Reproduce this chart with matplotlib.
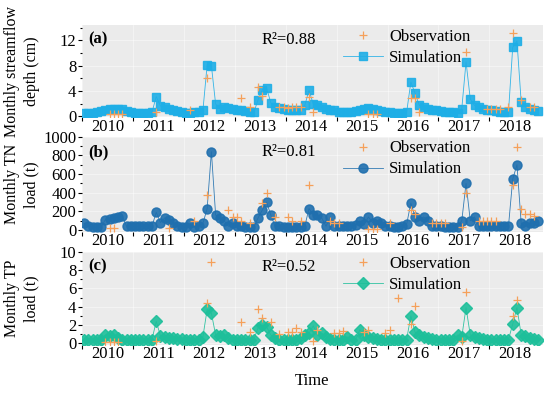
import numpy as np
import matplotlib
matplotlib.use('Agg')
import matplotlib.pyplot as plt
import matplotlib.ticker as mticker

plt.rcParams['font.family'] = ['Liberation Serif', 'DejaVu Serif']

N = None
years = list(range(2010, 2019))

# Monthly streamflow depth (cm), Jan 2010 - Dec 2018
flow_sim = [0.5, 0.5, 0.5, 0.6, 0.8, 1.0, 1.1, 1.2, 1.2, 1.1, 0.8, 0.6,
            0.5, 0.5, 0.5, 0.5, 0.6, 3.1, 1.6, 1.4, 1.2, 1.0, 0.8, 0.6,
            0.5, 0.5, 0.6, 0.7, 0.9, 8.1, 8.0, 1.9, 1.2, 1.4, 1.3, 1.2,
            1.0, 0.9, 0.8, 0.7, 0.6, 2.6, 4.2, 4.5, 2.1, 1.5, 1.3, 1.1,
            1.0, 0.9, 0.9, 1.0, 1.7, 4.1, 1.9, 1.7, 1.4, 1.2, 1.0, 0.9,
            0.7, 0.6, 0.6, 0.7, 0.8, 1.0, 1.2, 1.3, 1.2, 1.0, 0.8, 0.7,
            0.6, 0.5, 0.5, 0.5, 0.6, 5.4, 3.6, 1.7, 1.4, 1.2, 1.0, 0.9,
            0.8, 0.7, 0.6, 0.6, 0.5, 1.2, 8.6, 2.7, 1.7, 1.4, 1.2, 1.0,
            0.9, 0.8, 0.7, 0.6, 0.6, 10.9, 11.9, 2.2, 1.5, 1.2, 1.0, 0.8]
flow_obs = [N, N, N, N, N, N, 0.3, 0.3, 0.3, 0.3, N, N,
            N, N, N, N, N, 0.6, N, N, N, N, N, N,
            N, 1.0, N, N, N, 6.0, N, N, N, N, N, N,
            N, 2.8, N, 1.5, N, 4.6, 3.2, N, N, N, 1.4, 1.4,
            1.3, 1.4, 1.5, 1.4, N, 3.0, 0.6, N, N, N, N, N,
            N, N, N, N, N, N, N, 0.3, 0.3, 0.3, N, N,
            N, N, N, N, N, 2.8, 2.8, 0.6, N, N, N, N,
            N, N, N, N, N, N, 10.1, N, N, N, N, 1.2,
            1.2, 1.2, 1.2, N, 1.4, 13.1, N, 2.5, N, 1.4, 1.4, N]

# Monthly TN load (t)
tn_sim = [70, 40, 30, 30, 30, 110, 120, 130, 140, 150, 40, 40,
          40, 40, 40, 40, 40, 190, 80, 130, 110, 80, 40, 30,
          30, 70, 30, 40, 70, 230, 840, 160, 125, 100, 40, 75,
          40, 40, 30, 30, 30, 130, 215, 300, 160, 40, 40, 30,
          30, 30, 30, 30, 40, 230, 160, 160, 130, 40, 140, 40,
          40, 40, 40, 40, 50, 100, 60, 140, 80, 100, 80, 40,
          40, 30, 30, 40, 60, 290, 140, 100, 140, 100, 40, 40,
          40, 30, 30, 30, 30, 100, 500, 100, 140, 40, 40, 40,
          40, 40, 40, 40, 40, 545, 700, 70, 40, 70, 70, 100]
tn_obs = [N, N, N, N, N, N, 20, 20, N, N, N, N,
          N, N, N, N, N, N, N, N, 20, N, N, N,
          N, N, 100, N, N, 375, N, N, N, N, 215, 140,
          140, 100, N, 80, N, N, 290, 400, N, 140, N, N,
          140, 100, N, 100, N, 480, N, N, N, N, 100, 80,
          80, N, N, N, N, N, N, 15, 15, 15, N, N,
          80, N, N, N, N, 215, 170, N, N, N, 80, 80,
          80, 80, N, N, N, 30, 400, N, N, 100, 100, 100,
          100, 100, N, N, N, 480, 890, 230, 170, 170, 150, N]

# Monthly TP load (t)
tp_sim = [0.4, 0.4, 0.4, 0.4, 0.4, 0.9, 0.8, 0.9, 0.6, 0.4, 0.4, 0.4,
          0.4, 0.4, 0.4, 0.4, 0.4, 2.4, 0.8, 0.7, 0.6, 0.6, 0.5, 0.5,
          0.4, 0.4, 0.4, 0.4, 0.7, 3.7, 3.3, 0.9, 0.8, 0.9, 0.6, 0.4,
          0.4, 0.4, 0.4, 0.4, 0.4, 1.7, 2.0, 1.8, 0.9, 0.6, 0.4, 0.4,
          0.4, 0.4, 0.4, 0.6, 0.9, 1.1, 1.9, 0.9, 1.1, 0.7, 0.5, 0.4,
          0.4, 0.4, 0.7, 0.4, 0.4, 1.5, 0.9, 0.7, 0.6, 0.5, 0.4, 0.4,
          0.4, 0.4, 0.4, 0.4, 0.4, 3.0, 1.2, 0.9, 0.7, 0.6, 0.5, 0.4,
          0.4, 0.4, 0.4, 0.4, 0.9, 0.7, 3.9, 0.9, 0.7, 0.6, 0.5, 0.4,
          0.4, 0.4, 0.4, 0.4, 0.4, 2.1, 3.9, 0.9, 0.8, 0.6, 0.5, 0.4]
tp_obs = [N, N, N, N, N, 0.1, 0.1, 0.1, 0.1, N, N, N,
          N, N, N, N, N, 0.2, N, N, N, N, N, N,
          N, N, N, N, N, 4.4, 8.9, N, N, N, N, N,
          N, 2.3, N, 1.2, N, 3.7, 2.8, N, 2.3, N, 1.0, N,
          1.2, 1.2, 1.7, 1.2, N, N, 0.2, 1.4, N, N, N, 1.1,
          1.1, 1.3, N, N, N, N, 1.2, 1.4, N, N, N, 1.1,
          1.4, N, 5.0, N, N, 2.1, 4.1, N, N, N, N, N,
          N, N, N, N, N, 0.2, 5.6, N, N, N, N, N,
          N, N, N, N, N, 3.0, 4.7, N, N, N, N, N]

r2_values = ['0.88', '0.81', '0.52']
panel_tags = ['(a)', '(b)', '(c)']
ylabels = ['Monthly streamflow\ndepth (cm)', 'Monthly TN\nload (t)', 'Monthly TP\nload (t)']

x = 2010 + (np.arange(len(flow_sim)) + 0.5) / 12.0

obs_color = '#f5a05a'
sim_colors = ['#1eaee6', '#1f6fae', '#1dbf9a']
markers = ['s', 'o', 'D']
msizes = [5.5, 6.5, 6]

fig = plt.figure(figsize=(5.5, 3.93), dpi=100)
rects = [[0.149, 0.702, 0.838, 0.234],
         [0.149, 0.410, 0.838, 0.242],
         [0.149, 0.122, 0.838, 0.237]]
ylims = [(-0.15, 14.4), (-20, 1000), (-0.2, 10)]
yticks = [[0, 4, 8, 12], [0, 200, 400, 600, 800, 1000], [0, 2, 4, 6, 8, 10]]
yminor = [2, 100, 1]

series = [(flow_sim, flow_obs), (tn_sim, tn_obs), (tp_sim, tp_obs)]

for i, (sim, obs) in enumerate(series):
    ax = fig.add_axes(rects[i])
    ax.set_facecolor('#ebebeb')
    for s in ax.spines.values():
        s.set_visible(False)
    sim = np.array(sim, dtype=float)
    obs = np.array(obs, dtype=float)
    hs, = ax.plot(x, sim, color=sim_colors[i], lw=0.6, alpha=0.9,
                  marker=markers[i], ms=msizes[i], mec=sim_colors[i],
                  mfc=sim_colors[i], zorder=3, label='Simulation')
    ho, = ax.plot(x, obs, ls='none', marker='+', ms=6, mew=0.9,
                  color=obs_color, zorder=4, label='Observation')

    ax.set_xlim(2010, 2019.05)
    ax.set_ylim(*ylims[i])
    ax.set_yticks(yticks[i])
    ax.yaxis.set_minor_locator(mticker.MultipleLocator(yminor[i]))
    ax.set_xticks(years)
    ax.set_xticklabels([])
    ax.set_xticks([y + 0.5 for y in years], minor=True)
    ax.set_xticklabels([str(y) for y in years], minor=True)
    ax.tick_params(axis='x', which='minor', length=0, labelsize=12, pad=1)
    ax.tick_params(axis='x', which='major', length=3, width=0.8, direction='out')
    ax.tick_params(axis='y', which='major', length=3, width=0.8, labelsize=12, pad=1)
    ax.tick_params(axis='y', which='minor', length=1.5, width=0.8)
    ax.grid(True, which='major', color='white', lw=0.6, alpha=0.5)
    ax.set_axisbelow(True)

    ax.text(0.013, 0.84, panel_tags[i], transform=ax.transAxes, fontsize=12,
            fontweight='bold', va='center', ha='left')
    ax.text(0.39, 0.84, 'R\u00b2=' + r2_values[i], transform=ax.transAxes,
            fontsize=12, va='center', ha='left')
    ax.legend(handles=[ho, hs], loc='upper left', bbox_to_anchor=(0.54, 1.085),
              frameon=False, fontsize=12, handlelength=2.4, handletextpad=0.4,
              labelspacing=0.3, borderpad=0.2)
    fig.text(0.04, rects[i][1] + rects[i][3] / 2, ylabels[i], rotation=90,
             ha='center', va='center', fontsize=11.5, linespacing=1.3)

fig.text(0.567, 0.03, 'Time', ha='center', va='center', fontsize=12)
fig.savefig('out.png', dpi=100)
